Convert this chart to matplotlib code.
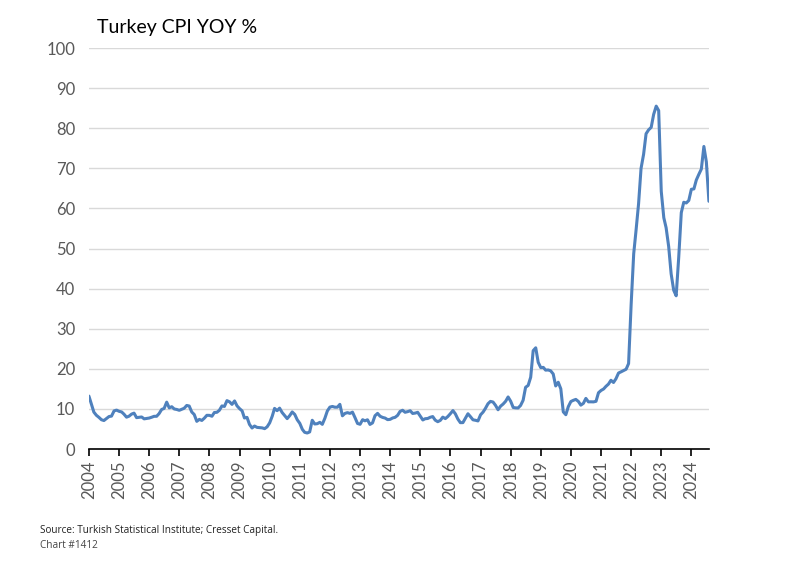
import pandas as pd
import matplotlib.pyplot as plt
import matplotlib.dates as mdates

# Turkey CPI YoY %, monthly (month-end), Dec 2003 - Jul 2024
cpi_2004 = [13.2, 11.1, 9.2, 8.4, 7.9, 7.3, 7.1, 7.6, 8.1, 8.2, 9.5, 9.7, 9.4]  # Dec03..Dec04
cpi_2005 = [9.24, 8.69, 7.94, 8.18, 8.70, 8.95, 7.82, 7.91, 7.99, 7.52, 7.61, 7.72]
cpi_2006 = [7.93, 8.15, 8.16, 8.83, 9.86, 10.12, 11.69, 10.26, 10.55, 9.98, 9.86, 9.65]
cpi_2007 = [9.93, 10.16, 10.86, 10.72, 9.23, 8.60, 6.90, 7.39, 7.12, 7.70, 8.40, 8.39]
cpi_2008 = [8.17, 9.10, 9.15, 9.66, 10.74, 10.61, 12.06, 11.77, 11.13, 11.99, 10.76, 10.06]
cpi_2009 = [9.50, 7.73, 7.89, 6.13, 5.24, 5.73, 5.39, 5.33, 5.27, 5.08, 5.53, 6.53]
cpi_2010 = [8.19, 10.13, 9.56, 10.19, 9.10, 8.37, 7.58, 8.33, 9.24, 8.62, 7.29, 6.40]
cpi_2011 = [4.90, 4.16, 3.99, 4.26, 7.17, 6.24, 6.31, 6.65, 6.15, 7.66, 9.48, 10.45]
cpi_2012 = [10.61, 10.43, 10.43, 11.14, 8.28, 8.87, 9.07, 8.88, 9.19, 7.80, 6.37, 6.16]
cpi_2013 = [7.31, 7.03, 7.29, 6.13, 6.51, 8.30, 8.88, 8.17, 7.88, 7.71, 7.32, 7.40]
cpi_2014 = [7.75, 7.89, 8.39, 9.38, 9.66, 9.16, 9.32, 9.54, 8.86, 8.96, 9.15, 8.17]
cpi_2015 = [7.24, 7.55, 7.61, 7.91, 8.09, 7.20, 6.81, 7.14, 7.95, 7.58, 8.10, 8.81]
cpi_2016 = [9.58, 8.78, 7.46, 6.57, 6.58, 7.64, 8.79, 8.05, 7.28, 7.16, 7.00, 8.53]
cpi_2017 = [9.22, 10.13, 11.29, 11.87, 11.72, 10.90, 9.79, 10.68, 11.20, 11.90, 12.98, 11.92]
cpi_2018 = [10.35, 10.26, 10.23, 10.85, 12.15, 15.39, 15.85, 17.90, 24.52, 25.24, 21.62, 20.30]
cpi_2019 = [20.35, 19.67, 19.71, 19.50, 18.71, 15.72, 16.65, 15.01, 9.26, 8.55, 10.56, 11.84]
cpi_2020 = [12.15, 12.37, 11.86, 10.94, 11.39, 12.62, 11.76, 11.77, 11.75, 11.89, 14.03, 14.60]
cpi_2021 = [14.97, 15.61, 16.19, 17.14, 16.59, 17.53, 18.95, 19.25, 19.58, 19.89, 21.31, 36.08]
cpi_2022 = [48.69, 54.44, 61.14, 69.97, 73.50, 78.62, 79.60, 80.21, 83.45, 85.51, 84.39, 64.27]
cpi_2023 = [57.68, 55.18, 50.51, 43.68, 39.59, 38.21, 47.83, 58.94, 61.53, 61.36, 61.98, 64.77]
cpi_2024 = [64.86, 67.07, 68.50, 69.80, 75.45, 71.60, 61.78]

values = (cpi_2004 + cpi_2005 + cpi_2006 + cpi_2007 + cpi_2008 + cpi_2009 + cpi_2010
          + cpi_2011 + cpi_2012 + cpi_2013 + cpi_2014 + cpi_2015 + cpi_2016 + cpi_2017
          + cpi_2018 + cpi_2019 + cpi_2020 + cpi_2021 + cpi_2022 + cpi_2023 + cpi_2024)
dates = pd.date_range('2003-12-31', periods=len(values), freq='ME')
years = list(range(2004, 2025))

plt.rcParams['font.family'] = ['Lato', 'DejaVu Sans']

fig = plt.figure(figsize=(7.89, 5.73), dpi=100)
ax = fig.add_axes([0.1128, 0.2164, 0.7858, 0.6998])

ax.plot(dates, values, color='#4F81BD', linewidth=2.2, solid_capstyle='round')

ax.set_ylim(0, 100)
ax.set_yticks(range(0, 101, 10))
ax.set_xlim(pd.Timestamp('2004-01-01'), pd.Timestamp('2024-08-01'))
ax.set_xticks([pd.Timestamp(f'{y}-01-01') for y in years])
ax.xaxis.set_major_formatter(mdates.DateFormatter('%Y'))

ax.grid(axis='y', color='#D9D9D9', linewidth=1)
ax.set_axisbelow(True)
for s in ['left', 'right', 'top']:
    ax.spines[s].set_visible(False)
ax.spines['bottom'].set_color('black')
ax.spines['bottom'].set_linewidth(1.2)

ax.tick_params(axis='y', length=0, pad=10, labelsize=12, labelcolor='#595959')
ax.tick_params(axis='x', direction='out', length=5, width=1.2, color='black',
               pad=3, labelsize=12, labelcolor='#595959', labelrotation=90)

fig.text(97 / 789, 1 - 27 / 573, 'Turkey CPI YOY %', fontsize=14, color='black',
         va='center', ha='left')
fig.text(40 / 789, 1 - 531 / 573, 'Source: Turkish Statistical Institute; Cresset Capital.',
         fontsize=7.2, color='#222222', va='center', ha='left', family=['Open Sans', 'DejaVu Sans'])
fig.text(40 / 789, 1 - 545 / 573, 'Chart #1412', fontsize=7.2, color='#444444',
         va='center', ha='left', family=['Open Sans', 'DejaVu Sans'])

fig.savefig('out.png', dpi=100)
